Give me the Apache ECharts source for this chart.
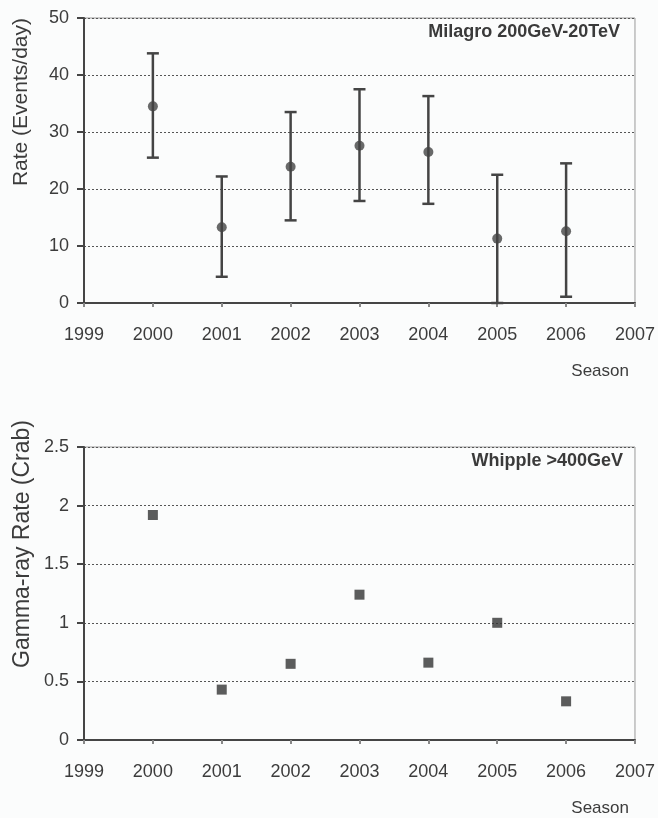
<!DOCTYPE html>
<html>
<head>
<meta charset="utf-8">
<script src="https://cdn.jsdelivr.net/npm/echarts@6/dist/echarts.min.js"></script>
<style>
  html, body { margin: 0; padding: 0; background: #fbfcfc; }
  #main { width: 658px; height: 818px; }
</style>
</head>
<body>
<div id="main"></div>
<script>
var seasons = [2000, 2001, 2002, 2003, 2004, 2005, 2006];
// Milagro rate (events/day) with error bar ends
var milagroRate = [34.5, 13.3, 23.9, 27.6, 26.5, 11.3, 12.6];
var milagroLow = [25.5, 4.6, 14.5, 17.9, 17.4, 0, 1.1];
var milagroHigh = [43.8, 22.2, 33.5, 37.5, 36.3, 22.5, 24.5];
// Whipple rate (Crab units)
var whippleRate = [1.92, 0.43, 0.65, 1.24, 0.66, 1.0, 0.33];

var fontFam = '"Liberation Sans", Arial, sans-serif';
var ink = '#3c3c3c';

var chart = echarts.init(document.getElementById('main'));

function xAx(gi) {
  return {
    type: 'value', gridIndex: gi, min: 1999, max: 2007, interval: 1,
    axisLine: { onZero: false, lineStyle: { color: '#454545', width: 2 } },
    axisTick: { length: 4, lineStyle: { color: '#888', width: 2 } },
    axisLabel: { color: ink, fontSize: 18, fontFamily: fontFam, margin: 23,
      formatter: function (v) { return String(v); } },
    splitLine: { show: false },
    name: 'Season', nameLocation: 'end', nameGap: 0,
    nameTextStyle: { color: ink, fontSize: 17, fontFamily: fontFam,
      align: 'right', verticalAlign: 'top', padding: [60, 6, 0, 0] }
  };
}
function yAx(gi, max, interval) {
  return {
    type: 'value', gridIndex: gi, min: 0, max: max, interval: interval,
    axisLine: { show: true, lineStyle: { color: '#454545', width: 2 } },
    axisTick: { show: true, length: 7, lineStyle: { color: '#454545', width: 2 } },
    axisLabel: { color: ink, fontSize: 18, fontFamily: fontFam, margin: 15,
      formatter: function (v) { return String(v); } },
    splitLine: { show: true, lineStyle: { color: '#555', type: [2, 2], width: 1 } }
  };
}

function errBar(params, api) {
  var x = api.value(0);
  var lo = api.coord([x, api.value(1)]);
  var hi = api.coord([x, api.value(2)]);
  var w = 6;
  var st = { stroke: '#444', lineWidth: 2.5 };
  return {
    type: 'group',
    children: [
      { type: 'line', shape: { x1: lo[0], y1: lo[1], x2: hi[0], y2: hi[1] }, style: st },
      { type: 'line', shape: { x1: lo[0] - w, y1: lo[1], x2: lo[0] + w, y2: lo[1] }, style: st },
      { type: 'line', shape: { x1: hi[0] - w, y1: hi[1], x2: hi[0] + w, y2: hi[1] }, style: st }
    ]
  };
}

chart.setOption({
  backgroundColor: '#fbfcfc',
  animation: false,
  grid: [
    { left: 84, right: 22, top: 18, height: 285, show: true, borderColor: '#9a9a9a', borderWidth: 1 },
    { left: 84, right: 22, top: 447, height: 293, show: true, borderColor: '#9a9a9a', borderWidth: 1 }
  ],
  xAxis: [xAx(0), xAx(1)],
  yAxis: [yAx(0, 50, 10), yAx(1, 2.5, 0.5)],
  graphic: [
    { type: 'text', left: 11, top: 18, rotation: Math.PI / 2,
      style: { text: 'Rate (Events/day)', fill: ink, font: '21px ' + fontFam } },
    { type: 'text', left: 11, top: 420, rotation: Math.PI / 2,
      style: { text: 'Gamma-ray Rate (Crab)', fill: ink, font: '23px ' + fontFam } },
    { type: 'text', right: 38, top: 23,
      style: { text: 'Milagro 200GeV-20TeV', fill: '#3a3a3a', font: 'bold 18px ' + fontFam } },
    { type: 'text', right: 35, top: 452,
      style: { text: 'Whipple >400GeV', fill: '#3a3a3a', font: 'bold 18px ' + fontFam } }
  ],
  series: [
    {
      type: 'custom', xAxisIndex: 0, yAxisIndex: 0,
      renderItem: errBar,
      data: seasons.map(function (s, i) { return [s, milagroLow[i], milagroHigh[i]]; }),
      z: 2
    },
    {
      type: 'scatter', xAxisIndex: 0, yAxisIndex: 0, symbol: 'circle', symbolSize: 10,
      itemStyle: { color: '#444' },
      data: seasons.map(function (s, i) { return [s, milagroRate[i]]; }),
      z: 3
    },
    {
      type: 'scatter', xAxisIndex: 1, yAxisIndex: 1, symbol: 'rect', symbolSize: 10,
      itemStyle: { color: '#333' },
      data: seasons.map(function (s, i) { return [s, whippleRate[i]]; })
    }
  ]
});
</script>
</body>
</html>
